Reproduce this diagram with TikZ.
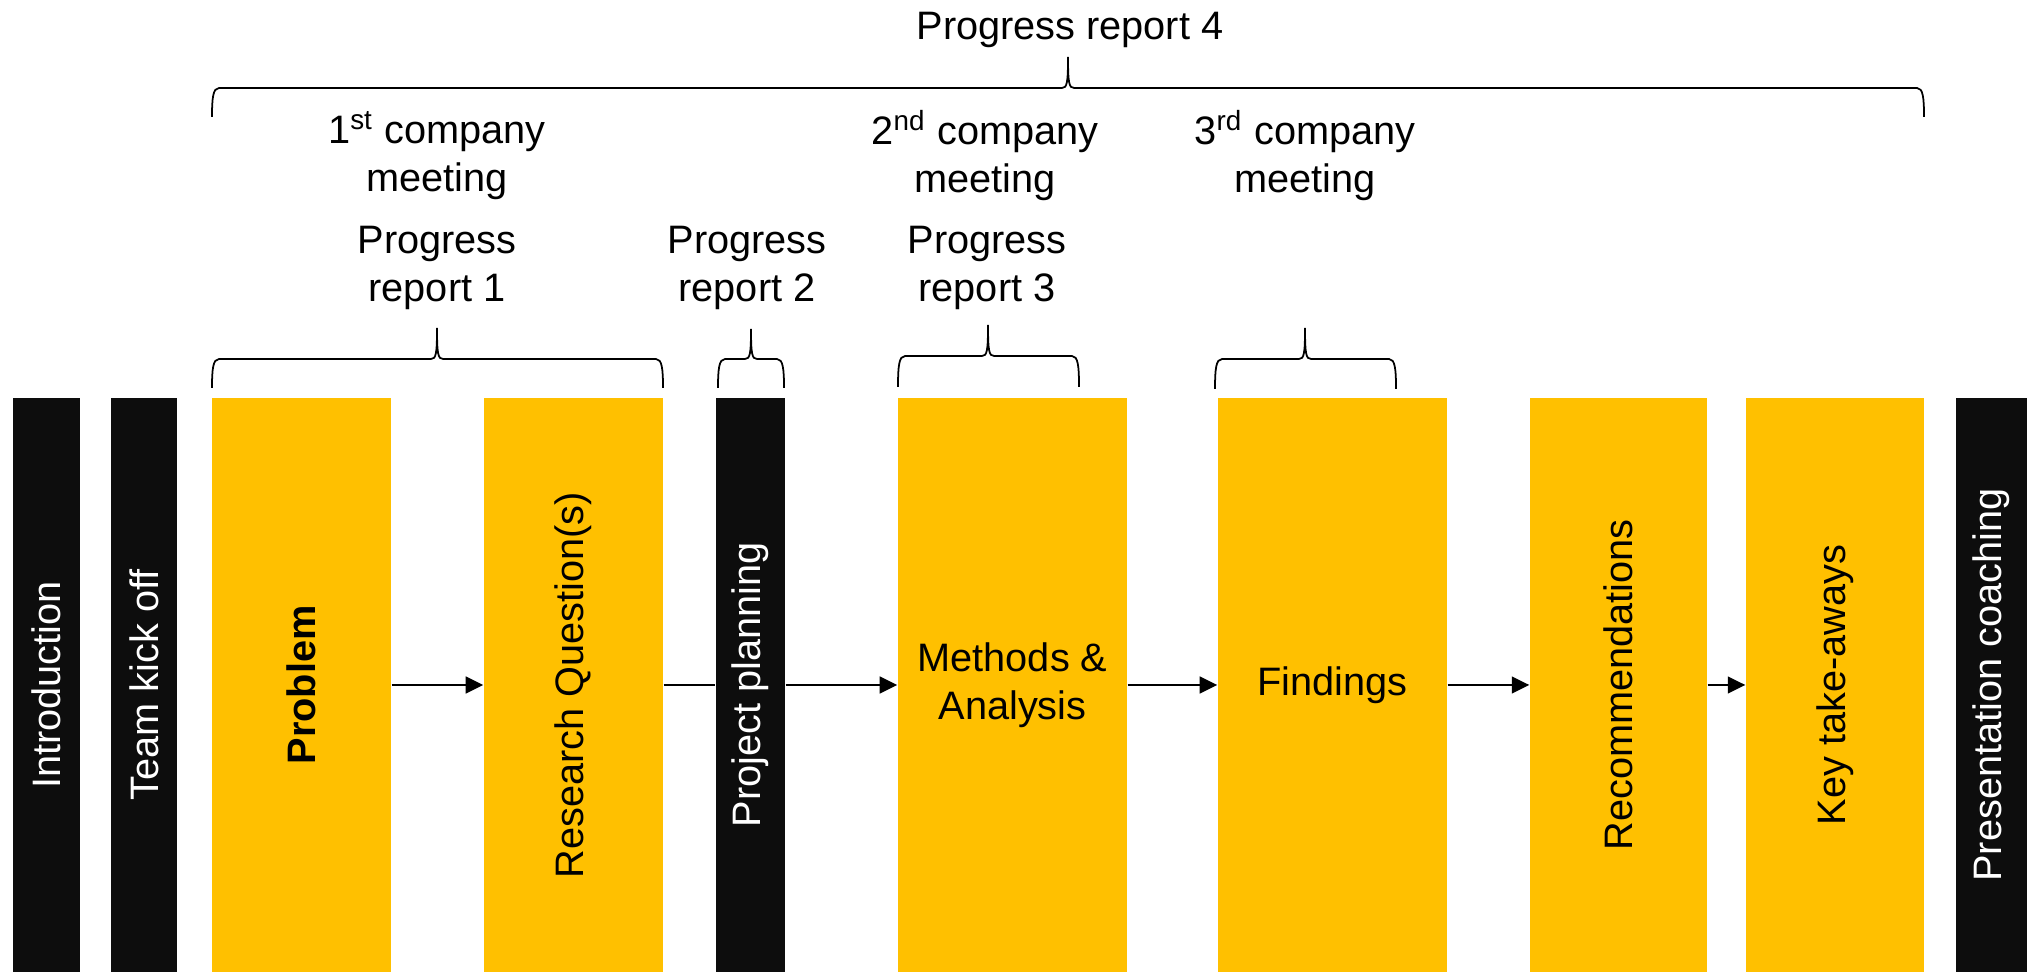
\documentclass[tikz,border=0pt]{standalone}
\usepackage{fontspec}
\setmainfont{Liberation Sans}
\usepackage{graphicx}
\usetikzlibrary{arrows.meta}
\definecolor{phasegold}{HTML}{FFC000}
\definecolor{phaseblack}{HTML}{0D0D0D}

\begin{document}
\begin{tikzpicture}[x=0.1mm, y=0.1mm,
    every node/.style={font=\fontsize{11.3}{13.7}\selectfont},
    blackbar/.style={fill=phaseblack, text=white, inner sep=0pt, minimum height=57.4mm},
    goldbar/.style={fill=phasegold, text=black, inner sep=0pt, minimum height=57.4mm},
    flow/.style={line width=0.6pt, -{Triangle[length=5pt,width=4.8pt]}},
    bracket/.style={line width=0.5pt}]
    \useasboundingbox (0,0) rectangle (2031,972);

    % phases along the bottom
    \node[blackbar, minimum width=6.7mm] (intro) at (46.5,287) {\rotatebox{90}{Introduction}};
    \node[blackbar, minimum width=6.6mm] (kickoff) at (144,287) {\rotatebox{90}{Team kick off}};
    \node[goldbar, minimum width=17.9mm] (problem) at (301.5,287) {\rotatebox{90}{\bfseries Problem}};
    \node[goldbar, minimum width=17.9mm] (research) at (573.5,287) {\rotatebox{90}{Research Question(s)}};
    \node[blackbar, minimum width=6.9mm] (planning) at (750.5,287) {\rotatebox{90}{Project planning}};
    \node[goldbar, minimum width=22.9mm, align=center] (methods) at (1012.5,287) {Methods \&\\Analysis};
    \node[goldbar, minimum width=22.9mm] (findings) at (1332.5,287) {Findings};
    \node[goldbar, minimum width=17.7mm] (recommend) at (1618.5,287) {\rotatebox{90}{Recommendations}};
    \node[goldbar, minimum width=17.8mm] (takeaways) at (1835,287) {\rotatebox{90}{Key take-aways}};
    \node[blackbar, minimum width=7.1mm] (coaching) at (1991.5,287) {\rotatebox{90}{Presentation coaching}};

    % flow between phases
    \draw[flow] (problem) -- (research);
    \draw[line width=0.6pt] (research) -- (planning);
    \draw[flow] (planning) -- (methods);
    \draw[flow] (methods) -- (findings);
    \draw[flow] (findings) -- (recommend);
    \draw[flow] (recommend) -- (takeaways);

    % brackets: left/tip/right/end/line/top
    \foreach \l/\t/\r/\ye/\yl/\yt in {212/1068/1924/855/884/915, 212/437/663/584/613/644,
        718/751/784/584/613/643, 898/988/1079/585/616/647, 1215/1305/1396/583/613/644} {
        \draw[bracket] (\l,\ye) .. controls (\l,\yl-10) and (\l+1,\yl) .. (\l+7,\yl)
            -- (\t-6,\yl) .. controls (\t-1,\yl) and (\t,\yl+5) .. (\t,\yt)
            .. controls (\t,\yl+5) and (\t+1,\yl) .. (\t+6,\yl)
            -- (\r-7,\yl) .. controls (\r-1,\yl) and (\r,\yl-10) .. (\r,\ye);
    }

    % labels over the brackets
    \node[anchor=base] (report4) at (1070,932) {Progress report 4};
    \node[align=center] (meeting1) at (437,816) {1\textsuperscript{st} company\\meeting};
    \node[align=center] (meeting2) at (985,816) {2\textsuperscript{nd} company\\meeting};
    \node[align=center] (meeting3) at (1305,816) {3\textsuperscript{rd} company\\meeting};
    \node[align=center] (report1) at (437,704) {Progress\\report 1};
    \node[align=center] (report2) at (747,704) {Progress\\report 2};
    \node[align=center] (report3) at (987,704) {Progress\\report 3};
\end{tikzpicture}
\end{document}
